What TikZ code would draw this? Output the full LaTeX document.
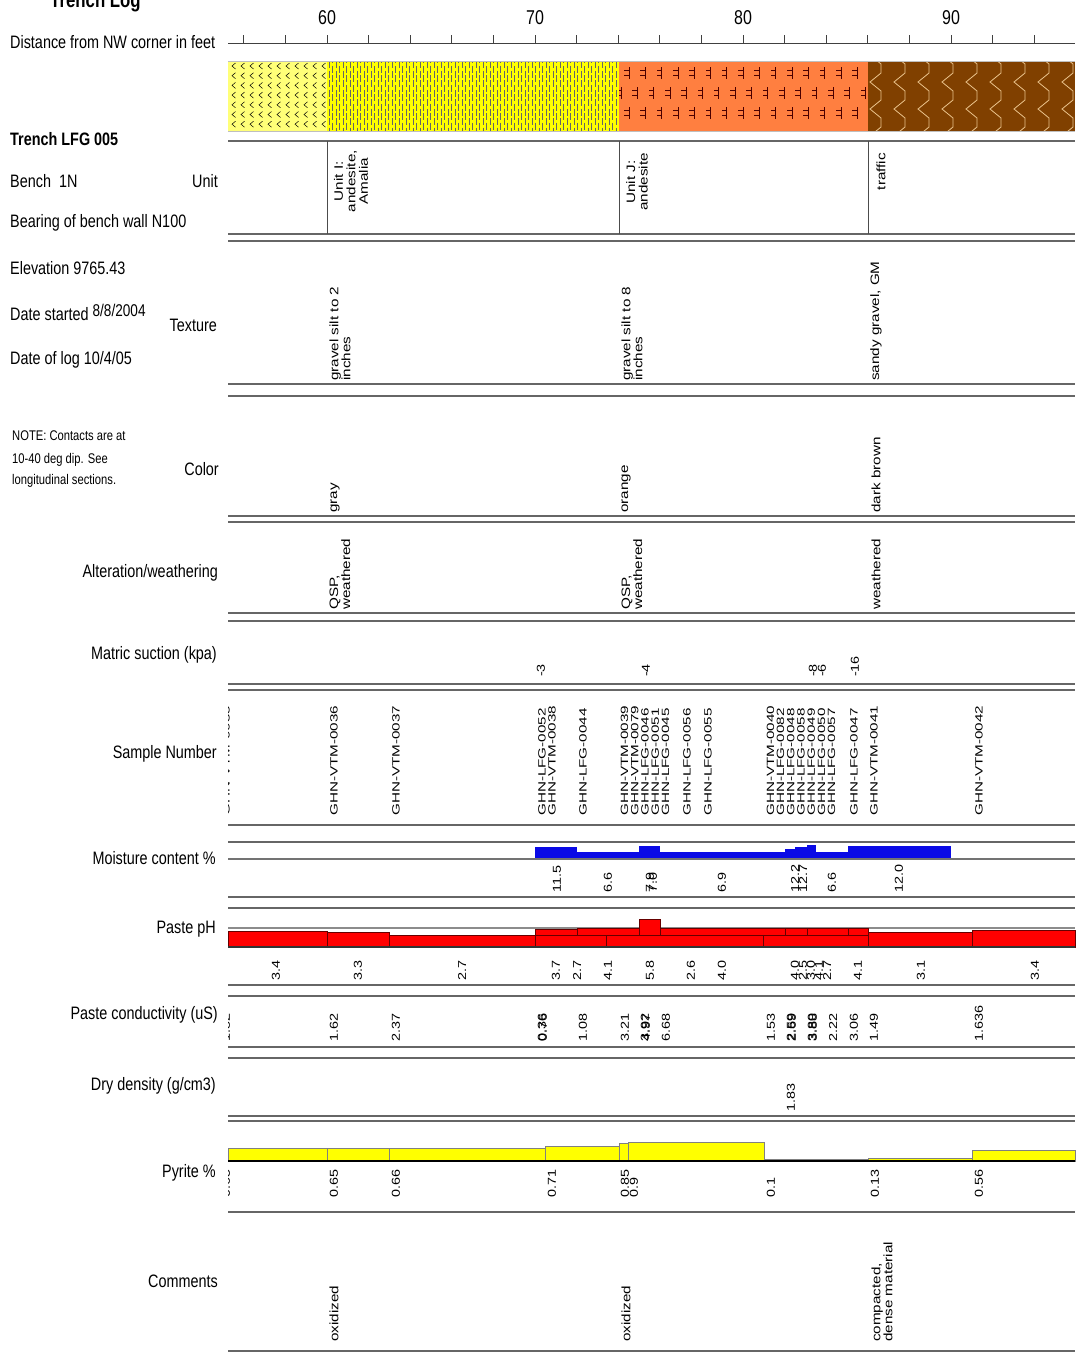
\documentclass[tikz,border=0pt]{standalone}
\usepackage{fontspec}
\setmainfont{Liberation Sans}
\newfontfamily\nar[FakeStretch=0.8]{Liberation Sans}
\newfontfamily\wid[FakeStretch=1.25]{Liberation Sans}
\newfontfamily\widd[FakeStretch=1.45]{Liberation Sans}
\definecolor{lyel}{RGB}{255,255,120}
\definecolor{yel}{RGB}{255,255,0}
\definecolor{org}{RGB}{255,127,64}
\definecolor{brn}{RGB}{128,64,0}
\definecolor{tanl}{RGB}{235,195,140}
\definecolor{blu}{RGB}{10,10,230}
\definecolor{rd}{RGB}{255,0,0}
\begin{document}
\begin{tikzpicture}[x=1pt,y=-1pt,
  lab/.style={font=\nar\fontsize{18}{20}\selectfont, inner sep=0, anchor=base east},
  llab/.style={font=\nar\fontsize{18}{20}\selectfont, inner sep=0, anchor=base west},
  note/.style={font=\nar\fontsize{14}{16}\selectfont, inner sep=0, anchor=base west},
  ticklab/.style={font=\nar\fontsize{20}{22}\selectfont, inner sep=0, anchor=base},
  vt/.style={rotate=90, anchor=west, inner sep=0, align=left, font=\wid\fontsize{12.2}{12}\selectfont},
  vc/.style={rotate=90, anchor=east, inner sep=0, align=center, font=\wid\fontsize{12.2}{12.5}\selectfont},
  vs/.style={rotate=90, anchor=west, inner sep=0, align=left, font=\widd\fontsize{10.5}{10.2}\selectfont},
  vn/.style={rotate=90, anchor=west, inner sep=0, font=\wid\fontsize{11.5}{12}\selectfont},
  rowline/.style={draw=black!60, line width=1.3pt},
  vd/.style={draw=black!60, line width=0.4pt, dash pattern=on 7pt off 2.5pt},
  chev/.style={draw=black, line width=0.5pt},
  mk/.style={draw=black!70!red, line width=0.7pt},
  scal/.style={draw=tanl, line width=0.8pt},
  pbar/.style={fill=rd, draw=black!60!red, line width=0.5pt},
  ybar/.style={fill=yel, draw=black!50, line width=0.5pt}
]
\useasboundingbox[fill=white] (0,0) rectangle (1078,1353);

% ---------- left labels ----------
\node[llab, font=\nar\bfseries\fontsize{21}{22}\selectfont] (title) at (50,7) {Trench Log};
\node[llab] (dist) at (10,48) {Distance from NW corner in feet};
\node[llab, font=\nar\bfseries\fontsize{18}{20}\selectfont] (trench) at (10,145) {Trench LFG 005};
\node[llab] (bench) at (10,187) {Bench\ \ 1N};
\node[llab] (bearing) at (10,227) {Bearing of bench wall N100};
\node[llab] (elev) at (10,274) {Elevation 9765.43};
\node[llab] (dstart) at (10,320) {Date started \raisebox{4pt}{\fontsize{17}{18}\selectfont 8/8/2004}};
\node[llab] (dlog) at (10,364) {Date of log 10/4/05};
\node[note] (n1) at (12,440) {NOTE: Contacts are at};
\node[note] (n2) at (12,463) {10-40 deg dip. See};
\node[note] (n3) at (12,484) {longitudinal sections.};

\node[lab] (lunit) at (218,187) {Unit};
\node[lab] (ltex) at (217,331) {Texture};
\node[lab] (lcol) at (219,475) {Color};
\node[lab] (lalt) at (218,577) {Alteration/weathering};
\node[lab] (lmat) at (217,659) {Matric suction (kpa)};
\node[lab] (lsam) at (217,758) {Sample Number};
\node[lab] (lmoi) at (216,864) {Moisture content \%};
\node[lab] (lph) at (216,933) {Paste pH};
\node[lab] (lcon) at (218,1019) {Paste conductivity (uS)};
\node[lab] (ldry) at (216,1090) {Dry density (g/cm3)};
\node[lab] (lpyr) at (216,1177) {Pyrite \%};
\node[lab] (lcom) at (218,1287) {Comments};

% ---------- distance axis ----------
\draw[draw=black!75, line width=1pt] (228,43) -- (1075,43);
\foreach \f in {56,58,...,94} \draw[draw=black!75, line width=0.8pt] ({327+(\f-60)*20.8},43) -- ++(0,-8);
\foreach \f in {60,70,80,90} \node[ticklab] at ({327+(\f-60)*20.8},24) {\f};

% ---------- lithology strip ----------
\fill[lyel] (228,61) rectangle (327,131);
\fill[yel] (327,61) rectangle (619,131);
\fill[org] (619,61) rectangle (868,131);
\fill[brn] (868,61) rectangle (1075,131);
\begin{scope}
\clip (228,61) rectangle (327,131);
\foreach \r in {0,...,6} \foreach \c in {0,...,10}
  \draw[chev] ({232+9*\c+3.5},{66+9.7*\r-3}) -- ++(-3.5,3) -- ++(3.5,3);
\end{scope}
\begin{scope}
\clip (327,61) rectangle (619,131);
\foreach \xx in {329,336,...,619} \draw[vd] (\xx,61) -- (\xx,131);
\foreach \xx in {332.5,339.5,...,619} \draw[vd, dash phase=5pt] (\xx,61) -- (\xx,131);
\end{scope}
\begin{scope}
\clip (619,61) rectangle (868,131);
\foreach \yy/\off in {73/0, 93/-8, 113/0} \foreach \c in {0,...,15}
  {\draw[mk] ({629+\off+16.3*\c},\yy-6) -- ++(0,12);
   \draw[mk] ({629+\off+16.3*\c},\yy-2.5) -- ++(-5,0);
   \draw[mk] ({629+\off+16.3*\c},\yy+2.5) -- ++(-5,0);}
\end{scope}
\begin{scope}
\clip (868,61) rectangle (1075,131);
\foreach \c in {0,...,9}
  \draw[scal] ({870+24*\c},55) -- ++(11,9) -- ++(0,9) -- ++(-11,9) -- ++(11,9) -- ++(0,9) -- ++(-11,9) -- ++(11,9) -- ++(0,9) -- ++(-11,9);
\end{scope}
\draw[draw=black!25, line width=0.6pt] (228,61) -- (1075,61) (228,131) -- (1075,131);

% ---------- row lines ----------
\foreach \yy in {141,234,241,384,396,516,522,613,621,684,690,825,842,897,908,985,996,1047,1058,1116,1121,1212,1351}
  \draw[rowline] (228,\yy) -- (1075,\yy);
\foreach \xx in {327,619,868} \draw[draw=black!70, line width=0.8pt] (\xx,141) -- (\xx,234);

% ---------- Unit ----------
\node[vc] (u1) at (351,150) {Unit I:\\andesite,\\Amalia};
\node[vc] (u2) at (637,153) {Unit J:\\andesite};
\node[vc] (u3) at (881,153) {traffic};
% ---------- Texture ----------
\node[vt] (t1) at (340,381) {gravel silt to 2\\inches};
\node[vt] (t2) at (632,381) {gravel silt to 8\\inches};
\node[vt] (t3) at (876,381) {sandy gravel, GM};
% ---------- Color ----------
\node[vt] (c1) at (335,513) {gray};
\node[vt] (c2) at (626,513) {orange};
\node[vt] (c3) at (876,513) {dark brown};
% ---------- Alteration ----------
\node[vt] (a1) at (340,610) {QSP,\\weathered};
\node[vt] (a2) at (632,610) {QSP,\\weathered};
\node[vt] (a3) at (876,610) {weathered};
% ---------- Matric suction ----------
\foreach \xx/\v in {541/-3, 646/-4, 813/-8, 822/-6, 855/-16}
  \node[vn] at (\xx,677) {\v};
% ---------- Sample numbers ----------
\begin{scope}
\clip (228,690) rectangle (1075,825);
\node[vs] (s0) at (226,816) {GHN-VTM-0035};
\end{scope}
\node[vs] (s1) at (334,816) {GHN-VTM-0036};
\node[vs] (s2) at (396,816) {GHN-VTM-0037};
\node[vs] (s3) at (547,816) {GHN-LFG-0052\\GHN-VTM-0038};
\node[vs] (s4) at (583,816) {GHN-LFG-0044};
\node[vs] (s5) at (645,816) {GHN-VTM-0039\\GHN-VTM-0079\\GHN-LFG-0046\\GHN-LFG-0051\\GHN-LFG-0045};
\node[vs] (s6) at (687,816) {GHN-LFG-0056};
\node[vs] (s7) at (708,816) {GHN-LFG-0055};
\node[vs] (s8) at (801,816) {GHN-VTM-0040\\GHN-LFG-0082\\GHN-LFG-0048\\GHN-LFG-0058\\GHN-LFG-0049\\GHN-LFG-0050\\GHN-LFG-0057};
\node[vs] (s9) at (854,816) {GHN-LFG-0047};
\node[vs] (s10) at (874,816) {GHN-VTM-0041};
\node[vs] (s11) at (979,816) {GHN-VTM-0042};

% ---------- Moisture ----------
\foreach \a/\b/\t in {535/577/847, 577/639/852, 639/660/846, 660/785/852, 785/795/849, 795/807/847, 807/816/845, 816/848/852, 848/951/846}
  \fill[blu] (\a,\t) rectangle (\b,859);
\draw[draw=black!55, line width=2pt] (228,859) -- (1075,859);
\foreach \xx/\v in {557/11.5, 608/6.6, 650/7.9, 653/7.0, 722/6.9, 795/12.2, 803/12.7, 832/6.6, 899/12.0}
  \node[vn] at (\xx,893) {\v};

% ---------- Paste pH ----------
\draw[draw=black!45, line width=1.2pt] (228,928) -- (1075,928);
\foreach \a/\b/\t in {228/327/931, 327/389/932, 389/535/935, 535/577/929, 577/639/928, 639/660/919, 660/785/928, 785/807/928, 807/848/928, 848/868/928, 868/972/932, 972/1075/930}
  \draw[pbar] (\a,\t) rectangle (\b,947);
\foreach \a/\b in {535/606, 606/763, 763/868}
  \draw[pbar] (\a,935) rectangle (\b,947);
\draw[draw=black!80, line width=1.3pt] (228,947) -- (1075,947);
\foreach \xx/\v in {276/3.4, 358/3.3, 462/2.7, 556/3.7, 577/2.7, 608/4.1, 650/5.8, 691/2.6, 722/4.0, 795/4.0, 803/2.5, 811/3.0, 819/4.1, 827/2.7, 858/4.1, 921/3.1, 1035/3.4}
  \node[vn] at (\xx,981) {\v};

% ---------- Conductivity ----------
\begin{scope}
\clip (228,996) rectangle (1075,1047);
\node[vn] at (226,1042) {1.82};
\end{scope}
\foreach \xx/\v in {334/1.62, 396/2.37, 542/0.36, 543/0.76, 583/1.08, 625/3.21, 645/3.92, 646/4.97, 666/6.68, 771/1.53, 791/2.59, 792/2.69, 812/3.80, 813/3.88, 833/2.22, 854/3.06, 874/1.49, 979/1.636}
  \node[vn] at (\xx,1042) {\v};

% ---------- Dry density ----------
\node[vn] (dd) at (791,1112) {1.83};

% ---------- Pyrite ----------
\foreach \a/\b/\t in {228/327/1148, 327/389/1148, 389/545/1148, 545/619/1146, 619/628/1143, 628/764/1142, 764/868/1159, 868/972/1158, 972/1075/1150}
  \draw[ybar] (\a,\t) rectangle (\b,1161);
\draw[draw=black, line width=2pt] (228,1161) -- (1075,1161);
\begin{scope}
\clip (228,1161) rectangle (1075,1212);
\node[vn] at (226,1198) {0.65};
\end{scope}
\foreach \xx/\v in {334/0.65, 396/0.66, 552/0.71, 625/0.85, 634/0.9, 771/0.1, 875/0.13, 979/0.56}
  \node[vn] at (\xx,1198) {\v};

% ---------- Comments ----------
\node[vt] (m1) at (334,1342) {oxidized};
\node[vt] (m2) at (626,1342) {oxidized};
\node[vt] (m3) at (882,1342) {compacted,\\dense material};
\end{tikzpicture}
\end{document}
